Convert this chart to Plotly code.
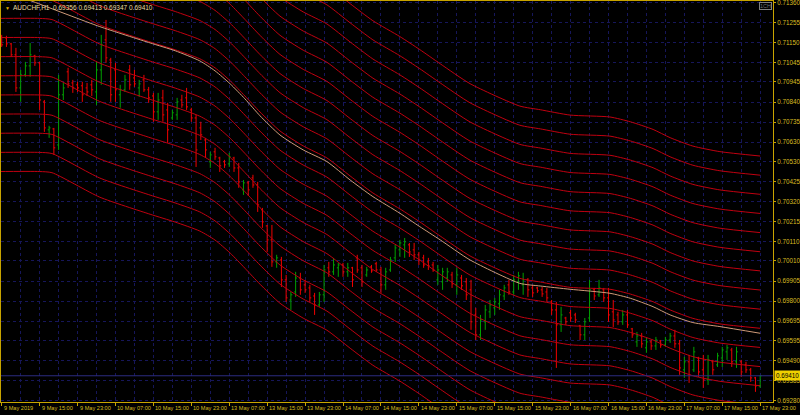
import plotly.graph_objects as go

# ---------------- data ----------------
bar_index = list(range(161))
open_ = [0.71181,0.71175,0.71144,0.71087,0.70914,0.70982,0.71029,0.71081,0.71045,0.70841,
         0.70695,0.70700,0.70616,0.70878,0.70998,0.70940,0.70930,0.70925,0.70914,0.70930,
         0.70893,0.71008,0.71165,0.71060,0.71008,0.70878,0.70904,0.71008,0.70966,0.70914,
         0.70956,0.70904,0.70872,0.70789,0.70862,0.70799,0.70757,0.70773,0.70851,0.70862,
         0.70799,0.70757,0.70705,0.70642,0.70528,0.70580,0.70548,0.70528,0.70517,0.70548,
         0.70496,0.70381,0.70418,0.70444,0.70407,0.70277,0.70193,0.70120,0.70005,0.70015,
         0.69911,0.69806,0.69848,0.69921,0.69885,0.69869,0.69827,0.69780,0.69833,0.69974,
         0.69953,0.69974,0.69989,0.69953,0.69974,0.70026,0.69974,0.69937,0.69979,0.69995,
         0.69963,0.69885,0.69963,0.70026,0.70068,0.70094,0.70094,0.70068,0.70042,0.70026,
         0.70005,0.69989,0.69911,0.69901,0.69921,0.69937,0.69885,0.69921,0.69901,0.69859,
         0.69728,0.69624,0.69692,0.69744,0.69765,0.69786,0.69827,0.69885,0.69848,0.69901,
         0.69885,0.69911,0.69869,0.69869,0.69859,0.69848,0.69796,0.69754,0.69676,0.69712,
         0.69739,0.69728,0.69671,0.69624,0.69712,0.69859,0.69833,0.69859,0.69817,0.69744,
         0.69728,0.69692,0.69728,0.69655,0.69587,0.69618,0.69556,0.69587,0.69566,0.69592,
         0.69571,0.69597,0.69618,0.69577,0.69441,0.69483,0.69441,0.69503,0.69441,0.69388,
         0.69483,0.69467,0.69503,0.69535,0.69545,0.69483,0.69483,0.69467,0.69441,0.69399,
         0.69356]
high = [0.71191,0.71186,0.71149,0.71123,0.71008,0.71050,0.71149,0.71087,0.71050,0.70851,
        0.70716,0.70705,0.70982,0.70940,0.71019,0.70956,0.70946,0.70946,0.70940,0.70956,
        0.71050,0.71191,0.71269,0.71071,0.71045,0.70930,0.70982,0.71034,0.71008,0.70956,
        0.70982,0.70919,0.70888,0.70888,0.70904,0.70836,0.70799,0.70862,0.70878,0.70914,
        0.70810,0.70773,0.70737,0.70653,0.70580,0.70601,0.70554,0.70538,0.70575,0.70554,
        0.70522,0.70433,0.70428,0.70460,0.70423,0.70287,0.70198,0.70198,0.70042,0.70031,
        0.69937,0.69848,0.69953,0.69948,0.69911,0.69885,0.69843,0.69848,0.69989,0.70005,
        0.70026,0.70000,0.70000,0.70000,0.69979,0.70042,0.69989,0.69979,0.69989,0.70005,
        0.69979,0.69974,0.70031,0.70094,0.70120,0.70130,0.70104,0.70104,0.70057,0.70042,
        0.70026,0.70005,0.69989,0.69974,0.69974,0.69953,0.69974,0.69937,0.69921,0.69911,
        0.69765,0.69728,0.69780,0.69806,0.69817,0.69859,0.69885,0.69911,0.69937,0.69953,
        0.69948,0.69921,0.69885,0.69874,0.69874,0.69869,0.69806,0.69796,0.69770,0.69718,
        0.69754,0.69739,0.69676,0.69712,0.69911,0.69869,0.69911,0.69869,0.69869,0.69806,
        0.69744,0.69754,0.69754,0.69660,0.69639,0.69634,0.69608,0.69597,0.69613,0.69597,
        0.69613,0.69634,0.69650,0.69597,0.69509,0.69519,0.69561,0.69509,0.69519,0.69519,
        0.69493,0.69530,0.69561,0.69571,0.69556,0.69561,0.69493,0.69483,0.69451,0.69404,
        0.69413]
low = [0.71128,0.71128,0.71076,0.70893,0.70841,0.70972,0.70972,0.71029,0.70799,0.70684,
       0.70653,0.70564,0.70590,0.70851,0.70914,0.70888,0.70893,0.70841,0.70872,0.70872,
       0.70825,0.70930,0.71045,0.70841,0.70841,0.70810,0.70893,0.70904,0.70919,0.70867,
       0.70893,0.70836,0.70737,0.70747,0.70737,0.70627,0.70747,0.70747,0.70810,0.70799,
       0.70737,0.70501,0.70642,0.70548,0.70496,0.70538,0.70475,0.70496,0.70501,0.70475,
       0.70392,0.70355,0.70350,0.70392,0.70266,0.70183,0.70057,0.69979,0.69974,0.69874,
       0.69796,0.69754,0.69822,0.69833,0.69843,0.69796,0.69728,0.69770,0.69796,0.69927,
       0.69937,0.69927,0.69927,0.69927,0.69874,0.69948,0.69874,0.69927,0.69948,0.69953,
       0.69843,0.69859,0.69953,0.70005,0.70031,0.70026,0.70031,0.70015,0.69989,0.69974,
       0.69963,0.69953,0.69885,0.69859,0.69901,0.69869,0.69833,0.69859,0.69806,0.69650,
       0.69597,0.69597,0.69650,0.69712,0.69728,0.69754,0.69806,0.69833,0.69833,0.69859,
       0.69833,0.69822,0.69822,0.69843,0.69822,0.69796,0.69728,0.69451,0.69639,0.69676,
       0.69692,0.69686,0.69597,0.69597,0.69692,0.69806,0.69822,0.69796,0.69692,0.69665,
       0.69676,0.69676,0.69660,0.69608,0.69561,0.69556,0.69530,0.69545,0.69545,0.69556,
       0.69561,0.69582,0.69556,0.69415,0.69399,0.69373,0.69430,0.69404,0.69347,0.69362,
       0.69415,0.69456,0.69456,0.69493,0.69456,0.69451,0.69404,0.69425,0.69378,0.69326,
       0.69347]
close = [0.71139,0.71144,0.71087,0.70914,0.70982,0.71029,0.71087,0.71045,0.70851,0.70705,
         0.70705,0.70601,0.70878,0.70914,0.70935,0.70914,0.70914,0.70878,0.70893,0.70904,
         0.71008,0.71139,0.71071,0.70878,0.70904,0.70904,0.70956,0.70930,0.70935,0.70935,
         0.70904,0.70862,0.70789,0.70851,0.70773,0.70695,0.70784,0.70841,0.70825,0.70815,
         0.70757,0.70590,0.70669,0.70590,0.70564,0.70554,0.70507,0.70512,0.70554,0.70496,
         0.70423,0.70418,0.70381,0.70407,0.70303,0.70214,0.70120,0.70005,0.70026,0.69911,
         0.69817,0.69833,0.69921,0.69859,0.69859,0.69817,0.69780,0.69833,0.69963,0.69953,
         0.69989,0.69989,0.69953,0.69974,0.69911,0.69963,0.69901,0.69963,0.69958,0.69963,
         0.69885,0.69953,0.70015,0.70078,0.70104,0.70110,0.70057,0.70042,0.70015,0.69989,
         0.69984,0.69963,0.69963,0.69953,0.69953,0.69890,0.69937,0.69880,0.69833,0.69692,
         0.69624,0.69702,0.69754,0.69780,0.69796,0.69833,0.69869,0.69848,0.69911,0.69932,
         0.69911,0.69859,0.69843,0.69854,0.69838,0.69817,0.69754,0.69676,0.69728,0.69692,
         0.69712,0.69702,0.69624,0.69692,0.69859,0.69827,0.69869,0.69817,0.69728,0.69702,
         0.69692,0.69728,0.69676,0.69624,0.69618,0.69577,0.69587,0.69566,0.69597,0.69571,
         0.69597,0.69618,0.69577,0.69451,0.69483,0.69415,0.69535,0.69430,0.69388,0.69493,
         0.69441,0.69514,0.69545,0.69556,0.69483,0.69535,0.69430,0.69441,0.69399,0.69357,
         0.69410]

# tan moving average (read at sample bars)
ma_bar = [-1, 6.6, 20.7, 31.3, 36.6, 41.8, 45, 48.2, 51.3, 54.5, 58.7, 63.6, 68.6, 73.5,
          78.3, 84, 88.2, 92.5, 98.8, 109.3, 113.6, 119.9, 128.3, 132.6, 137.4, 141, 145.8,
          151.5, 160]
ma_val = [0.71434, 0.71365, 0.71234, 0.71149, 0.71108, 0.71055, 0.71003, 0.70935, 0.70857,
          0.70768, 0.70668, 0.70590, 0.70529, 0.70433, 0.70346, 0.70259, 0.70189, 0.70120,
          0.70015, 0.69893, 0.69879, 0.69862, 0.69841, 0.69815, 0.69771, 0.69728, 0.69688,
          0.69667, 0.69632]

# envelope centre line (read at sample bars) and band offsets
env_bar = [-1, 8, 10.6, 20.7, 31.3, 36.6, 41.8, 45, 48.2, 51.3, 54.5, 58.7, 63.6, 68.6,
           73.5, 78.3, 84, 88.2, 92.5, 98.8, 109.3, 113.6, 119.9, 128.3, 132.6, 137.4, 141,
           145.8, 151.5, 160]
env_mid = [0.71377, 0.71377, 0.71371, 0.71243, 0.71154, 0.71113, 0.71066, 0.71019, 0.70951,
           0.70872, 0.70788, 0.70689, 0.70611, 0.70548, 0.70454, 0.70365, 0.70282, 0.70214,
           0.70140, 0.70036, 0.69919, 0.69900, 0.69872, 0.69862, 0.69837, 0.69797, 0.69754,
           0.69710, 0.69681, 0.69658]
env_offsets = [-0.009, -0.008, -0.007, -0.006, -0.005, -0.004, -0.003, -0.002, -0.001, 0.0,
               0.001, 0.002, 0.003, 0.004, 0.005, 0.006, 0.007, 0.008, 0.009]

time_tick_bar = list(range(0, 161, 8))
time_tick_text = ["9 May 2019", "9 May 15:00", "9 May 23:00", "10 May 07:00", "10 May 15:00",
                  "10 May 23:00", "13 May 07:00", "13 May 15:00", "13 May 23:00", "14 May 07:00",
                  "14 May 15:00", "14 May 23:00", "15 May 07:00", "15 May 15:00", "15 May 23:00",
                  "16 May 07:00", "16 May 15:00", "16 May 23:00", "17 May 07:00", "17 May 15:00",
                  "17 May 23:00"]
price_tick_text = ["0.71360", "0.71255", "0.71150", "0.71045", "0.70945", "0.70840", "0.70735",
                   "0.70630", "0.70530", "0.70425", "0.70320", "0.70215", "0.70110", "0.70010",
                   "0.69905", "0.69800", "0.69695", "0.69595", "0.69490", "0.69385", "0.69280"]
price_tick_val = [float(t) for t in price_tick_text]
last_price = 0.69410
last_price_text = "0.69410"
title_text = "AUDCHF,H1  0.69356 0.69413 0.69347 0.69410"
corner_box_text = "1CH"

# ---------------- style ----------------
BG = "#000000"
AXIS = "#c8a400"
TXT = "#d8bc20"
GRID = "#16165a"
ENV = "#c00010"
MA = "#d09a78"
UP = "#00a000"
DN = "#f00000"
FONT = "Liberation Sans"

fig = go.Figure()

for off in env_offsets:
    fig.add_trace(go.Scatter(x=env_bar, y=[m + off for m in env_mid], mode="lines",
                             line=dict(color=ENV, width=1, shape="spline", smoothing=0.6),
                             hoverinfo="skip", showlegend=False))

fig.add_trace(go.Scatter(x=ma_bar, y=ma_val, mode="lines",
                         line=dict(color=MA, width=1, shape="spline", smoothing=0.6),
                         hoverinfo="skip", showlegend=False))

fig.add_trace(go.Ohlc(x=bar_index, open=open_, high=high, low=low, close=close,
                      increasing=dict(line=dict(color=UP, width=1)),
                      decreasing=dict(line=dict(color=DN, width=1)),
                      tickwidth=0.3, showlegend=False, hoverinfo="skip"))

# bid line
fig.add_shape(type="line", xref="paper", x0=0, x1=1, yref="y", y0=last_price, y1=last_price,
              line=dict(color="#2c2c80", width=1))

for b, t in zip(time_tick_bar, time_tick_text):
    fig.add_annotation(x=b, y=0, xref="x", yref="paper", text=t, showarrow=False,
                       xanchor="left", yanchor="top", xshift=0, yshift=-1,
                       font=dict(family=FONT, size=5.6, color=TXT))

fig.add_annotation(x=1, y=last_price, xref="paper", yref="y", text=last_price_text,
                   showarrow=False, xanchor="left", yanchor="middle", xshift=1,
                   bgcolor="#f0d000", borderpad=1, font=dict(family=FONT, size=6.3, color="#000000"))

fig.add_annotation(x=0, y=1, xref="paper", yref="paper", text="▼", showarrow=False,
                   xanchor="left", yanchor="top", xshift=2, yshift=-2,
                   font=dict(family=FONT, size=5, color="#e0b000"))
fig.add_annotation(x=0, y=1, xref="paper", yref="paper", text=title_text, showarrow=False,
                   xanchor="left", yanchor="top", xshift=10, yshift=-1,
                   font=dict(family=FONT, size=6.5, color="#e8dca0"))
fig.add_annotation(x=1, y=1, xref="paper", yref="paper", text=corner_box_text, showarrow=False,
                   xanchor="right", yanchor="top", xshift=-1, yshift=-1,
                   bordercolor="#808080", borderwidth=1, borderpad=0, bgcolor="#000000",
                   font=dict(family=FONT, size=5.5, color="#707070"))

fig.update_layout(
    width=800, height=415,
    margin=dict(l=1, r=27, t=1, b=13, autoexpand=False),
    paper_bgcolor=BG, plot_bgcolor=BG,
    showlegend=False,
    xaxis=dict(range=[-0.15, 162.7], rangeslider=dict(visible=False),
               tickvals=time_tick_bar, ticktext=[""] * len(time_tick_bar),
               ticks="outside", ticklen=3, tickcolor=AXIS,
               showgrid=True, gridcolor=GRID, griddash="dot", gridwidth=1,
               minor=dict(dtick=4, tick0=0, showgrid=True, gridcolor=GRID, griddash="dot", ticks=""),
               showline=True, linecolor=AXIS, linewidth=1, mirror=True, zeroline=False,
               fixedrange=True),
    yaxis=dict(range=[0.69273, 0.71368], side="right",
               tickvals=price_tick_val, ticktext=price_tick_text,
               ticks="outside", ticklen=2, tickcolor=AXIS, ticklabelstandoff=0,
               ticklabeloverflow="allow",
               tickfont=dict(family=FONT, size=6.3, color=TXT),
               showgrid=True, gridcolor=GRID, griddash="dot", gridwidth=1,
               showline=True, linecolor=AXIS, linewidth=1, mirror=True, zeroline=False,
               fixedrange=True),
)

fig.write_html("out.html", config={"displayModeBar": False},
               post_script="document.body.style.margin='0';document.body.style.background='#000';")
